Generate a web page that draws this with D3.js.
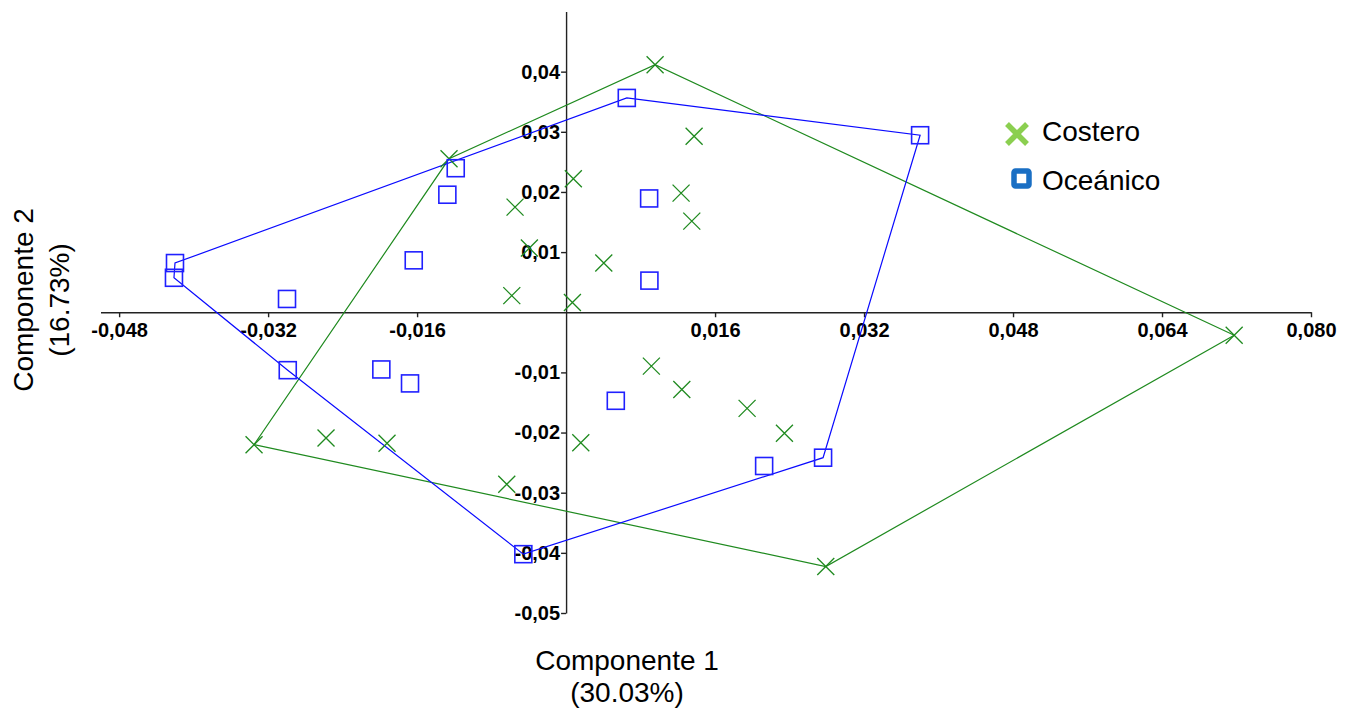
<!DOCTYPE html>
<html>
<head>
<meta charset="utf-8">
<script src="https://cdn.jsdelivr.net/npm/d3@7"></script>
<style>
  html, body { margin: 0; padding: 0; background: #fff; }
  svg { display: block; font-family: "Liberation Sans", Arial, sans-serif; }
</style>
</head>
<body>
<svg id="chart" width="1354" height="708"></svg>
<script>
// PCA scores, component 1 (x) and component 2 (y)
const costeroX = [0.00956, 0.01375, -0.01257, 0.00078, -0.00548, 0.01235, 0.01350, -0.00394, 0.00405, -0.00583, 0.00068,
                  0.07175, 0.00916, 0.01243, 0.01944, 0.02345, 0.00158, -0.02578, -0.01923, -0.03351, -0.00637, 0.02789];
const costeroY = [0.04116, 0.02926, 0.02551, 0.02219, 0.01748, 0.01980, 0.01515, 0.01067, 0.00818, 0.00277, 0.00161,
                  -0.00382, -0.00896, -0.01283, -0.01598, -0.02013, -0.02169, -0.02091, -0.02179, -0.02202, -0.02860, -0.04227];
const oceanicoX = [0.00652, 0.03802, -0.01185, -0.01275, 0.00892, -0.04200, -0.04211, -0.01636, -0.02997, 0.00895,
                   -0.02989, -0.01984, -0.01676, 0.00534, 0.02127, 0.02760, -0.00459];
const oceanicoY = [0.03563, 0.02943, 0.02395, 0.01954, 0.01892, 0.00818, 0.00573, 0.00863, 0.00221, 0.00526,
                   -0.00963, -0.00951, -0.01183, -0.01472, -0.02556, -0.02418, -0.04022];

const seriesNames = ["Costero", "Oceánico"];

const xTickValues = [-0.048, -0.032, -0.016, 0.016, 0.032, 0.048, 0.064, 0.080];
const xTickLabels = ["-0,048", "-0,032", "-0,016", "0,016", "0,032", "0,048", "0,064", "0,080"];
const yTickValues = [0.04, 0.03, 0.02, 0.01, -0.01, -0.02, -0.03, -0.04, -0.05];
const yTickLabels = ["0,04", "0,03", "0,02", "0,01", "-0,01", "-0,02", "-0,03", "-0,04", "-0,05"];

const xTitle = ["Componente 1", "(30.03%)"];
const yTitle = ["Componente 2", "(16.73%)"];

const svg = d3.select("#chart");

const x = d3.scaleLinear().domain([-0.05, 0.08]).range([100.5, 1311]);
const y = d3.scaleLinear().domain([-0.05, 0.05]).range([613, 11.5]);

const GREEN = "#1f8a1f";
const BLUE = "#0a0aff";

// axes crossing at the origin
const xAxis = d3.axisBottom(x)
  .tickValues(xTickValues)
  .tickFormat((d, i) => xTickLabels[i])
  .tickSize(5)
  .tickSizeOuter(0)
  .tickPadding(6);

const yAxis = d3.axisLeft(y)
  .tickValues(yTickValues)
  .tickFormat((d, i) => yTickLabels[i])
  .tickSize(5)
  .tickSizeOuter(0)
  .tickPadding(1);

const gx = svg.append("g").attr("transform", `translate(0,${y(0)})`).call(xAxis);
const gy = svg.append("g").attr("transform", `translate(${x(0)},0)`).call(yAxis);

[gx, gy].forEach(g => {
  g.select(".domain").attr("stroke", "#222").attr("stroke-width", 1.4);
  g.selectAll(".tick line").attr("stroke", "#222").attr("stroke-width", 1.4);
  g.selectAll(".tick text")
    .attr("fill", "#000")
    .style("font-family", "'Liberation Sans', Arial, sans-serif")
    .style("font-weight", "bold")
    .style("font-size", "20px");
});

// series points
const costero = costeroX.map((v, i) => [v, costeroY[i]]);
const oceanico = oceanicoX.map((v, i) => [v, oceanicoY[i]]);

// convex hulls
const line = d3.line().x(d => x(d[0])).y(d => y(d[1])).curve(d3.curveLinearClosed);

svg.append("path")
  .attr("d", line(d3.polygonHull(costero)))
  .attr("fill", "none")
  .attr("stroke", GREEN)
  .attr("stroke-width", 1.2);

svg.append("path")
  .attr("d", line(d3.polygonHull(oceanico)))
  .attr("fill", "none")
  .attr("stroke", BLUE)
  .attr("stroke-width", 1.2);

// markers
const half = 8.5;
svg.append("g").selectAll("path")
  .data(costero)
  .join("path")
  .attr("d", d => {
    const cx = x(d[0]), cy = y(d[1]);
    return `M${cx - half},${cy - half}L${cx + half},${cy + half}M${cx - half},${cy + half}L${cx + half},${cy - half}`;
  })
  .attr("fill", "none")
  .attr("stroke", GREEN)
  .attr("stroke-width", 1.3);

svg.append("g").selectAll("rect")
  .data(oceanico)
  .join("rect")
  .attr("x", d => x(d[0]) - half)
  .attr("y", d => y(d[1]) - half)
  .attr("width", half * 2)
  .attr("height", half * 2)
  .attr("fill", "none")
  .attr("stroke", "#2020ff")
  .attr("stroke-width", 1.6);

// legend
const legend = svg.append("g");
legend.append("path")
  .attr("d", "M1007,124L1027,144M1007,144L1027,124")
  .attr("stroke", "#8bcf50")
  .attr("stroke-width", 5.5)
  .attr("stroke-linecap", "butt");
legend.append("rect")
  .attr("x", 1014).attr("y", 171)
  .attr("width", 15).attr("height", 15)
  .attr("rx", 1.5)
  .attr("fill", "none")
  .attr("stroke", "#1a6fc4")
  .attr("stroke-width", 5.5);

legend.selectAll("text")
  .data(seriesNames)
  .join("text")
  .attr("x", 1042)
  .attr("y", (d, i) => 141 + i * 49)
  .attr("fill", "#000")
  .style("font-size", "28px")
  .text(d => d);

// axis titles
svg.append("g").selectAll("text")
  .data(xTitle)
  .join("text")
  .attr("x", 627)
  .attr("y", (d, i) => 670 + i * 32)
  .attr("text-anchor", "middle")
  .attr("fill", "#000")
  .style("font-size", "28px")
  .text(d => d);

svg.append("g").selectAll("text")
  .data(yTitle)
  .join("text")
  .attr("transform", (d, i) => `translate(${33 + i * 36},300) rotate(-90)`)
  .attr("text-anchor", "middle")
  .attr("fill", "#000")
  .style("font-size", "28px")
  .text(d => d);
</script>
</body>
</html>
